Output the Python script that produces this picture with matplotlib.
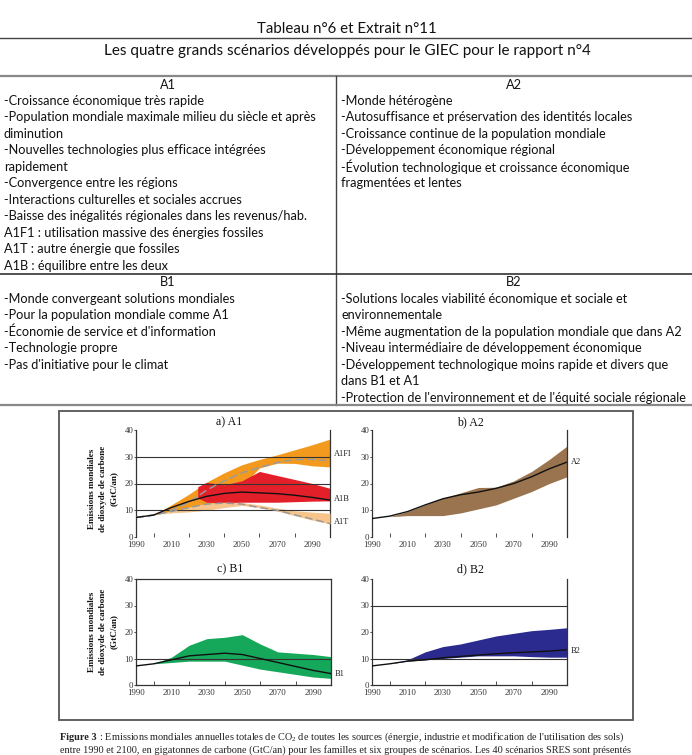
import matplotlib
matplotlib.use("Agg")
import matplotlib.pyplot as plt
from matplotlib.lines import Line2D
from matplotlib.patches import Rectangle
from matplotlib.ticker import FixedLocator

W, H = 692, 755
plt.rcParams['mathtext.fontset'] = 'custom'
plt.rcParams['mathtext.rm'] = 'Liberation Serif'

# ---------------- data ----------------
years = [1990, 2000, 2010, 2020, 2030, 2040, 2050, 2060, 2070, 2080, 2090, 2100]

# a) A1
a1_env_upper = [7.5, 8.2, 12.0, 16.0, 20.5, 24.0, 27.0, 29.0, 30.7, 32.6, 34.5, 36.6]
a1_env_lower = [7.5, 8.2, 9.6, 10.6, 11.5, 13.0, 19.0, 25.8, 27.6, 27.5, 26.6, 26.2]
a1b_years = [2025, 2030, 2040, 2050, 2060, 2070, 2080, 2090, 2100]
a1b_upper = [18.8, 20.4, 19.5, 21.0, 24.5, 23.0, 21.5, 20.0, 18.2]
a1b_lower = [14.6, 13.0, 12.8, 13.0, 13.0, 13.0, 13.2, 13.4, 13.5]
a1t_years = [2005, 2010, 2020, 2030, 2040, 2050, 2060, 2070, 2080, 2090, 2100]
a1t_upper = [8.6, 9.6, 11.2, 12.6, 13.0, 12.9, 12.0, 10.8, 9.8, 9.3, 8.9]
a1t_lower = [8.6, 9.0, 9.4, 10.0, 11.0, 11.8, 11.0, 9.7, 8.0, 6.3, 4.9]
a1fi_median = [7.3, 8.2, 10.0, 13.0, 17.5, 21.0, 24.0, 26.0, 27.8, 29.0, 29.0, 28.5]
a1t_median = [7.3, 8.2, 9.5, 11.0, 12.3, 12.7, 12.3, 11.0, 10.0, 8.3, 6.7, 5.0]
a1b_median = [7.3, 8.2, 11.0, 13.3, 15.2, 16.3, 16.8, 16.5, 16.2, 15.6, 14.8, 13.8]

# b) A2
a2_upper = [6.9, 7.6, 9.5, 12.0, 14.5, 16.5, 18.5, 18.6, 21.0, 24.5, 29.0, 34.0]
a2_lower = [6.9, 7.6, 8.0, 8.0, 8.0, 9.0, 10.5, 12.0, 14.5, 17.0, 20.0, 22.5]
a2_median = [6.9, 7.8, 9.5, 12.0, 14.3, 15.8, 16.8, 18.2, 20.0, 22.5, 25.5, 28.0]

# c) B1
b1_upper = [7.2, 8.0, 10.5, 15.0, 17.5, 18.0, 19.0, 15.5, 12.5, 12.0, 11.5, 10.7]
b1_lower = [7.2, 8.0, 8.5, 9.0, 9.0, 9.0, 7.5, 6.0, 5.0, 4.0, 3.0, 2.5]
b1_median = [7.2, 8.0, 9.5, 11.0, 11.5, 12.0, 11.5, 10.0, 8.5, 7.0, 5.5, 4.3]

# d) B2
b2_upper = [7.2, 8.0, 9.5, 12.5, 14.5, 15.5, 17.0, 18.5, 19.5, 20.5, 21.0, 21.6]
b2_lower = [7.2, 8.0, 9.0, 9.5, 10.0, 10.5, 11.0, 11.0, 11.0, 10.7, 10.5, 10.5]
b2_median = [7.2, 8.0, 9.0, 9.5, 10.3, 10.8, 11.3, 11.8, 12.2, 12.5, 12.8, 13.3]

ytick_values = [0, 10, 20, 30, 40]
xtick_labels = [1990, 2010, 2030, 2050, 2070, 2090]
xminor_ticks = [2000, 2010, 2020, 2030, 2040, 2050, 2060, 2070, 2080]

table_title = "Tableau n°6 et Extrait n°11"
table_subtitle = "Les quatre grands scénarios développés pour le GIEC pour le rapport n°4"
a1_text = ["-Croissance économique très rapide",
           "-Population mondiale maximale milieu du siècle et après",
           "diminution",
           "-Nouvelles technologies plus efficace intégrées",
           "rapidement",
           "-Convergence entre les régions",
           "-Interactions culturelles et sociales accrues",
           "-Baisse des inégalités régionales dans les revenus/hab.",
           "A1F1 : utilisation massive des énergies fossiles",
           "A1T : autre énergie que fossiles",
           "A1B : équilibre entre les deux"]
a2_text = ["-Monde hétérogène",
           "-Autosuffisance et préservation des identités locales",
           "-Croissance continue de la population mondiale",
           "-Développement économique régional",
           "-Évolution technologique et croissance économique",
           "fragmentées et lentes"]
b1_text = ["-Monde convergeant solutions mondiales",
           "-Pour la population mondiale comme A1",
           "-Économie de service et d'information",
           "-Technologie propre",
           "-Pas d'initiative pour le climat"]
b2_text = ["-Solutions locales viabilité économique et sociale et",
           "environnementale",
           "-Même augmentation de la population mondiale que dans A2",
           "-Niveau intermédiaire de développement économique",
           "-Développement technologique moins rapide et divers que",
           "dans B1 et A1",
           "-Protection de l'environnement et de l'équité sociale régionale"]
caption_bold = "Figure 3"
caption_l1 = " : Emissions mondiales annuelles totales de CO$_2$ de toutes les sources (énergie, industrie et modification de l'utilisation des sols)"
caption_l2 = "entre 1990 et 2100, en gigatonnes de carbone (GtC/an) pour les familles et six groupes de scénarios. Les 40 scénarios SRES sont présentés"

# ---------------- figure ----------------
fig = plt.figure(figsize=(W / 100, H / 100), dpi=100)
fig.patch.set_facecolor('white')


def fx(x):
    return x / W


def fy(y):
    return 1 - y / H


def hline(y, x0, x1, color='#333333', lw=1.0):
    fig.add_artist(Line2D([fx(x0), fx(x1)], [fy(y), fy(y)], color=color, lw=lw,
                          transform=fig.transFigure))


def vline(x, y0, y1, color='#333333', lw=1.0):
    fig.add_artist(Line2D([fx(x), fx(x)], [fy(y0), fy(y1)], color=color, lw=lw,
                          transform=fig.transFigure))


TF = 'Lato'
TS = 9.2
fig.text(fx(347), fy(29), table_title, ha='center', va='center', family=TF, fontsize=10.8, color='#111')
hline(38, 0, 692, '#444444', 1.0)
fig.text(fx(347), fy(51), table_subtitle, ha='center', va='center', family=TF, fontsize=11.0, color='#111')
hline(76, 0, 692, '#888888', 1.6)
vline(336, 76, 405, '#444444', 1.0)
hline(274, 0, 692, '#333333', 1.2)
hline(405, 0, 692, '#888888', 1.6)

fig.text(fx(168), fy(85), "A1", ha='center', va='center', family=TF, fontsize=TS, color='#111')
fig.text(fx(514), fy(85), "A2", ha='center', va='center', family=TF, fontsize=TS, color='#111')
fig.text(fx(168), fy(282), "B1", ha='center', va='center', family=TF, fontsize=TS, color='#111')
fig.text(fx(514), fy(282), "B2", ha='center', va='center', family=TF, fontsize=TS, color='#111')
step = 16.45
for i, t in enumerate(a1_text):
    fig.text(fx(4), fy(101 + i * step), t, ha='left', va='center', family=TF, fontsize=TS, color='#111')
for i, t in enumerate(a2_text):
    fig.text(fx(341), fy(101 + i * step), t, ha='left', va='center', family=TF, fontsize=TS, color='#111')
for i, t in enumerate(b1_text):
    fig.text(fx(4), fy(299 + i * step), t, ha='left', va='center', family=TF, fontsize=TS, color='#111')
for i, t in enumerate(b2_text):
    fig.text(fx(341), fy(299 + i * step), t, ha='left', va='center', family=TF, fontsize=TS, color='#111')

# figure box
fig.add_artist(Rectangle((fx(59), fy(720)), fx(633) - fx(59), fy(411) - fy(720),
                         transform=fig.transFigure, fill=False, edgecolor='#555555', lw=1.3))

SF = 'Liberation Serif'
ORANGE = '#F39A1E'
RED = '#E3202A'
LIGHT = '#F7C58C'
BROWN = '#9A744F'
GREEN = '#16A85A'
BLUE = '#2B2A8E'


def make_axes(x0, x1, ytop, ybot, top=False, bottom=False, grid=()):
    ax = fig.add_axes([fx(x0), fy(ybot), fx(x1) - fx(x0), fy(ytop) - fy(ybot)])
    ax.set_xlim(1990, 2100)
    ax.set_ylim(0, 40)
    ax.set_facecolor('none')
    for s in ['left', 'right']:
        ax.spines[s].set_color('#333333')
        ax.spines[s].set_linewidth(0.9)
    ax.spines['top'].set_visible(top)
    ax.spines['bottom'].set_visible(bottom)
    ax.spines['top'].set_color('#333333')
    ax.spines['bottom'].set_color('#333333')
    ax.spines['top'].set_linewidth(0.9)
    ax.spines['bottom'].set_linewidth(0.9)
    ax.set_yticks(ytick_values)
    ax.set_yticklabels([str(v) for v in ytick_values], family=SF, fontsize=6.3, color='#333333')
    ax.tick_params(axis='y', which='major', direction='out', length=1.5, width=0.6, pad=0.5, colors='#333333')
    ax.set_xticks(xtick_labels)
    ax.set_xticklabels([str(v) for v in xtick_labels], family=SF, fontsize=6.3, color='#333333')
    ax.tick_params(axis='x', which='major', length=0, pad=3.2)
    ax.xaxis.set_minor_locator(FixedLocator(xminor_ticks))
    ax.tick_params(axis='x', which='minor', direction='in', length=3, width=0.6, colors='#333333')
    for g in grid:
        ax.axhline(g, color='#333333', lw=0.8, zorder=5)
    return ax


def panel_title(xc, y, txt):
    fig.text(fx(xc), fy(y), txt, ha='center', va='center', family=SF, fontsize=8.6, color='#111')


def ylabel(yc):
    for x, t in zip([92, 103, 114], ["Emissions mondiales", "de dioxyde de carbone", "(GtC/an)"]):
        fig.text(fx(x), fy(yc), t, rotation=90, ha='center', va='center', family=SF,
                 fontsize=6.6, fontweight='bold', color='#111')


def end_label(ax, val, txt):
    ax.annotate(txt, xy=(2100, val), xytext=(2.5, 0), textcoords='offset points',
                ha='left', va='center', family=SF, fontsize=6.0, color='#222', annotation_clip=False)


# a) A1
axa = make_axes(136, 330, 430, 537, grid=(10, 20, 30))
axa.fill_between(years, a1_env_lower, a1_env_upper, color=ORANGE, lw=0, zorder=1)
axa.fill_between(a1b_years, a1b_lower, a1b_upper, color=RED, lw=0, zorder=2)
axa.fill_between(a1t_years, a1t_lower, a1t_upper, color=LIGHT, lw=0, zorder=3)
axa.plot(years, a1fi_median, color='#9A9A9A', lw=1.1, ls=(0, (5, 2.5)), zorder=6)
axa.plot(years, a1t_median, color='#9A9A9A', lw=1.1, ls=(0, (5, 2.5)), zorder=6)
axa.plot(years, a1b_median, color='#111111', lw=1.0, zorder=7)
end_label(axa, 31, "A1FI")
end_label(axa, 14.2, "A1B")
end_label(axa, 5.6, "A1T")
panel_title(229, 422, "a) A1")
ylabel(489)

# b) A2
axb = make_axes(372, 567, 430, 537)
axb.fill_between(years, a2_lower, a2_upper, color=BROWN, lw=0, zorder=1)
axb.plot(years, a2_median, color='#111111', lw=1.0, zorder=7)
end_label(axb, 28, "A2")
panel_title(470, 422, "b) A2")

# c) B1
axc = make_axes(136, 331, 579, 685, top=True, bottom=True, grid=(10,))
axc.fill_between(years, b1_lower, b1_upper, color=GREEN, lw=0, zorder=1)
axc.plot(years, b1_median, color='#111111', lw=1.0, zorder=7)
end_label(axc, 4.2, "B1")
panel_title(230, 569, "c) B1")
ylabel(632)

# d) B2
axd = make_axes(372, 567, 579, 685, bottom=True, grid=(10, 30))
axd.fill_between(years, b2_lower, b2_upper, color=BLUE, lw=0, zorder=1)
axd.plot(years, b2_median, color='#111111', lw=1.0, zorder=7)
end_label(axd, 12.8, "B2")
panel_title(470, 569, "d) B2")

# caption
CS = 7.4
fig.canvas.draw()
renderer = fig.canvas.get_renderer()
cb = fig.text(fx(60), fy(737), caption_bold, ha='left', va='center', family=SF, fontsize=CS,
              fontweight='bold', color='#222')
bb = cb.get_window_extent(renderer=renderer)
fig.text(bb.x1 / W, fy(737), caption_l1, ha='left', va='center', family=SF, fontsize=CS, color='#222')
fig.text(fx(60), fy(750), caption_l2, ha='left', va='center', family=SF, fontsize=CS, color='#222')

fig.savefig("out.png", dpi=100, facecolor='white')
